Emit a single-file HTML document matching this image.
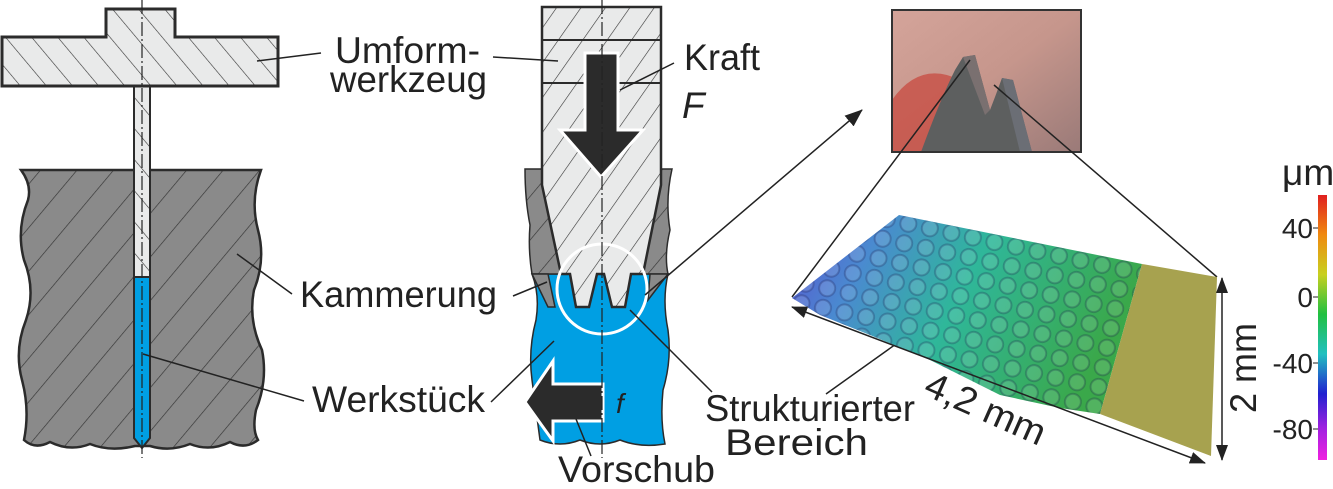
<!DOCTYPE html>
<html><head><meta charset="utf-8"><style>
html,body{margin:0;padding:0;background:#fff}
svg{display:block}
text{font-family:"Liberation Sans",sans-serif;fill:#222}
</style></head><body>
<svg width="1333" height="489" viewBox="0 0 1333 489" xmlns="http://www.w3.org/2000/svg">
<defs>
<pattern id="hb" width="28" height="28" patternUnits="userSpaceOnUse" patternTransform="rotate(40)">
<rect width="28" height="28" fill="#8a8a8a"/><line x1="0" y1="0" x2="0" y2="28" stroke="#333" stroke-width="1.3"/></pattern>
<pattern id="hl" width="20" height="20" patternUnits="userSpaceOnUse" patternTransform="rotate(-40)">
<rect width="20" height="20" fill="#e9eaea"/><line x1="0" y1="0" x2="0" y2="20" stroke="#333" stroke-width="1.2"/></pattern>
<pattern id="hl2" width="20" height="20" patternUnits="userSpaceOnUse" patternTransform="rotate(35)">
<rect width="20" height="20" fill="#e9eaea"/><line x1="0" y1="0" x2="0" y2="20" stroke="#333" stroke-width="1.2"/></pattern>
<linearGradient id="surf" x1="0" y1="0" x2="1" y2="0.3">
<stop offset="0" stop-color="#5a4fd0"/><stop offset="0.25" stop-color="#4a8ad0"/><stop offset="0.55" stop-color="#2fb79a"/><stop offset="1" stop-color="#3aa84a"/></linearGradient>
<linearGradient id="cbar" x1="0" y1="0" x2="0" y2="1">
<stop offset="0" stop-color="#e02020"/><stop offset="0.15" stop-color="#f08a10"/><stop offset="0.3" stop-color="#c8d020"/><stop offset="0.45" stop-color="#20c040"/><stop offset="0.6" stop-color="#20c0c0"/><stop offset="0.75" stop-color="#2020d0"/><stop offset="0.88" stop-color="#a020e0"/><stop offset="1" stop-color="#f020e0"/></linearGradient>
<linearGradient id="photo" x1="0" y1="0" x2="1" y2="1">
<stop offset="0" stop-color="#d4a49a"/><stop offset="0.5" stop-color="#c6968c"/><stop offset="1" stop-color="#9a7a78"/></linearGradient>
<pattern id="bumps" width="22" height="20" patternUnits="userSpaceOnUse" patternTransform="rotate(12)">
<circle cx="11" cy="10" r="8" fill="#ffffff" fill-opacity="0.12" stroke="#114" stroke-opacity="0.25" stroke-width="2"/></pattern>
<marker id="ah" markerWidth="16" markerHeight="12" refX="15" refY="6" orient="auto-start-reverse" markerUnits="userSpaceOnUse"><path d="M0,0 L16,6 L0,12 Z" fill="#222"/></marker>
<marker id="ah2" markerWidth="18" markerHeight="14" refX="17" refY="7" orient="auto" markerUnits="userSpaceOnUse"><path d="M0,0 L18,7 L0,14 Z" fill="#222"/></marker>
</defs>

<!-- LEFT FIGURE -->
<path d="M21,170 L261,170 Q250,200 258,230 Q266,260 254,290 Q248,320 262,350 Q268,380 256,410 Q252,430 258,440 Q245,450 230,442 Q210,452 190,444 Q170,452 150,446 L135,446 Q110,452 90,444 Q70,452 50,442 Q35,450 24,440 Q30,410 22,380 Q14,350 26,320 Q36,290 24,260 Q16,230 28,200 Q32,185 21,170 Z" fill="url(#hb)" stroke="#2b2b2b" stroke-width="2.5"/>
<rect x="134" y="86" width="16" height="192" fill="url(#hl)" stroke="#2b2b2b" stroke-width="2"/>
<path d="M134,277 L150,277 L150,438 L142,448 L134,438 Z" fill="#009fe3" stroke="#2b2b2b" stroke-width="2"/>
<path d="M2,37 L106,37 L106,9 L175,9 L175,37 L278,37 L278,86 L2,86 Z" fill="url(#hl)" stroke="#2b2b2b" stroke-width="3"/>
<line x1="142" y1="0" x2="142" y2="458" stroke="#222" stroke-width="1.2" stroke-dasharray="14,3,2,3"/>

<!-- MIDDLE FIGURE -->
<path d="M532,274 L668,274 Q662,300 668,330 Q672,360 663,390 Q660,420 665,444 Q640,448 620,440 Q600,448 580,440 Q560,448 540,440 Q536,410 532,380 Q528,350 536,320 Q540,295 532,274 Z" fill="#009fe3" stroke="#2b2b2b" stroke-width="1.5"/>
<path d="M525,169 L672,169 Q665,200 670,230 Q664,255 668,274 L668,274 L532,274 Q528,250 530,225 Q525,200 525,169 Z" fill="url(#hb)" stroke="#2b2b2b" stroke-width="1.5"/>
<path d="M532,274 L548,274 L555,307 L548,307 Z M668,274 L650,274 L648,300 Z" fill="#8a8a8a" stroke="#2b2b2b" stroke-width="1.5"/>
<path d="M542,7 L661,7 L661,185 L643,274 L631,274 L625,307 L612,307 L604,274 L597,274 L589,307 L576,307 L570,274 L561,274 L542,185 Z" fill="url(#hl2)" stroke="#2b2b2b" stroke-width="2.5"/>
<line x1="542" y1="40" x2="661" y2="40" stroke="#2b2b2b" stroke-width="2"/>
<line x1="542" y1="83" x2="661" y2="83" stroke="#2b2b2b" stroke-width="2"/>
<path d="M585,53 L618,53 L618,130 L643,130 L601,177 L560,130 L585,130 Z" fill="#2b2b2b" stroke="#fff" stroke-width="3"/>
<path d="M603,384 L603,421 L553,421 L553,441 L525,402 L553,361 L553,384 Z" fill="#2b2b2b" stroke="#fff" stroke-width="3"/>
<circle cx="602" cy="289" r="45" fill="none" stroke="#fff" stroke-width="3"/>
<line x1="602" y1="0" x2="602" y2="458" stroke="#222" stroke-width="1.2" stroke-dasharray="14,3,2,3"/>

<!-- leaders -->
<g stroke="#222" stroke-width="1.5" fill="none">
<line x1="321" y1="53" x2="257" y2="61"/>
<line x1="493" y1="57" x2="558" y2="61"/>
<line x1="674" y1="63" x2="620" y2="90"/>
<line x1="292" y1="294" x2="237" y2="254"/>
<line x1="513" y1="296" x2="547" y2="282"/>
<line x1="304" y1="401" x2="143" y2="354"/>
<line x1="491" y1="402" x2="554" y2="341"/>
<line x1="591" y1="456" x2="576" y2="419"/>
<line x1="630" y1="310" x2="712" y2="392"/>
<line x1="826" y1="394" x2="910" y2="334"/>
<line x1="645" y1="295" x2="862" y2="110" marker-end="url(#ah2)"/>
</g>

<!-- PHOTO -->
<rect x="892" y="10" width="189" height="142" fill="url(#photo)"/>
<path d="M892,100 Q920,60 960,80 L940,152 L892,152 Z" fill="#c8443a" opacity="0.7"/>
<path d="M921,152 Q940,100 955,70 L963,57 L975,55 L990,110 L995,97 L1002,78 L1013,80 L1032,152 Z" fill="#5d5f5f"/>
<path d="M963,57 L975,55 L990,110 L985,115 Z" fill="#7a7070"/>
<path d="M1002,78 L1013,80 L1032,152 L1020,152 Z" fill="#6b6e75"/>
<rect x="892" y="10" width="189" height="142" fill="none" stroke="#333" stroke-width="2"/>
<line x1="970" y1="60" x2="792" y2="297" stroke="#222" stroke-width="1.5"/>
<line x1="994" y1="85" x2="1217" y2="277" stroke="#222" stroke-width="1.5"/>

<!-- SURFACE -->
<path d="M792,298 L899,215 L1142,264 L1100,414 L1060,408 L1000,395 L930,360 L870,335 L820,315 Z" fill="url(#surf)"/>
<path d="M792,298 L899,215 L1142,264 L1100,414 L1060,408 L1000,395 L930,360 L870,335 L820,315 Z" fill="url(#bumps)"/>
<path d="M1142,264 L1217,277 L1211,456 L1100,414 Z" fill="#a7a24f"/>
<line x1="792" y1="307" x2="1205" y2="463" stroke="#222" stroke-width="1.5" marker-start="url(#ah)" marker-end="url(#ah)"/>
<line x1="1222" y1="278" x2="1222" y2="460" stroke="#222" stroke-width="1.5" marker-start="url(#ah)" marker-end="url(#ah)"/>

<!-- colour bar -->
<rect x="1318" y="195" width="9" height="265" fill="url(#cbar)"/>
<g stroke="#222" stroke-width="1"><line x1="1313" y1="228" x2="1318" y2="228"/><line x1="1313" y1="297" x2="1318" y2="297"/><line x1="1313" y1="363" x2="1318" y2="363"/><line x1="1313" y1="429" x2="1318" y2="429"/></g>

<!-- TEXT -->
<g font-size="37">
<text x="335" y="63" textLength="145" lengthAdjust="spacingAndGlyphs">Umform-</text>
<text x="330" y="92" textLength="157" lengthAdjust="spacingAndGlyphs">werkzeug</text>
<text x="684" y="70" textLength="76" lengthAdjust="spacingAndGlyphs">Kraft</text>
<text x="682" y="118" font-style="italic">F</text>
<text x="300" y="307" textLength="197" lengthAdjust="spacingAndGlyphs">Kammerung</text>
<text x="312" y="412" textLength="173" lengthAdjust="spacingAndGlyphs">Werkstück</text>
<text x="558" y="482" textLength="157" lengthAdjust="spacingAndGlyphs">Vorschub</text>
<text x="705" y="421" textLength="210" lengthAdjust="spacingAndGlyphs">Strukturierter</text>
<text x="725" y="455" textLength="143" lengthAdjust="spacingAndGlyphs">Bereich</text>
<text x="0" y="0" transform="translate(922,394) rotate(24)" textLength="128" lengthAdjust="spacingAndGlyphs">4,2 mm</text>
<text x="0" y="0" transform="translate(1256,413) rotate(-90)" textLength="90" lengthAdjust="spacingAndGlyphs">2 mm</text>
<text x="1282" y="185">μm</text>
</g>
<text x="616" y="413" font-size="28" font-style="italic">f</text>
<g font-size="28" text-anchor="end">
<text x="1313" y="238">40</text><text x="1313" y="307">0</text><text x="1313" y="373">-40</text><text x="1313" y="439">-80</text>
</g>
</svg>
</body></html>
